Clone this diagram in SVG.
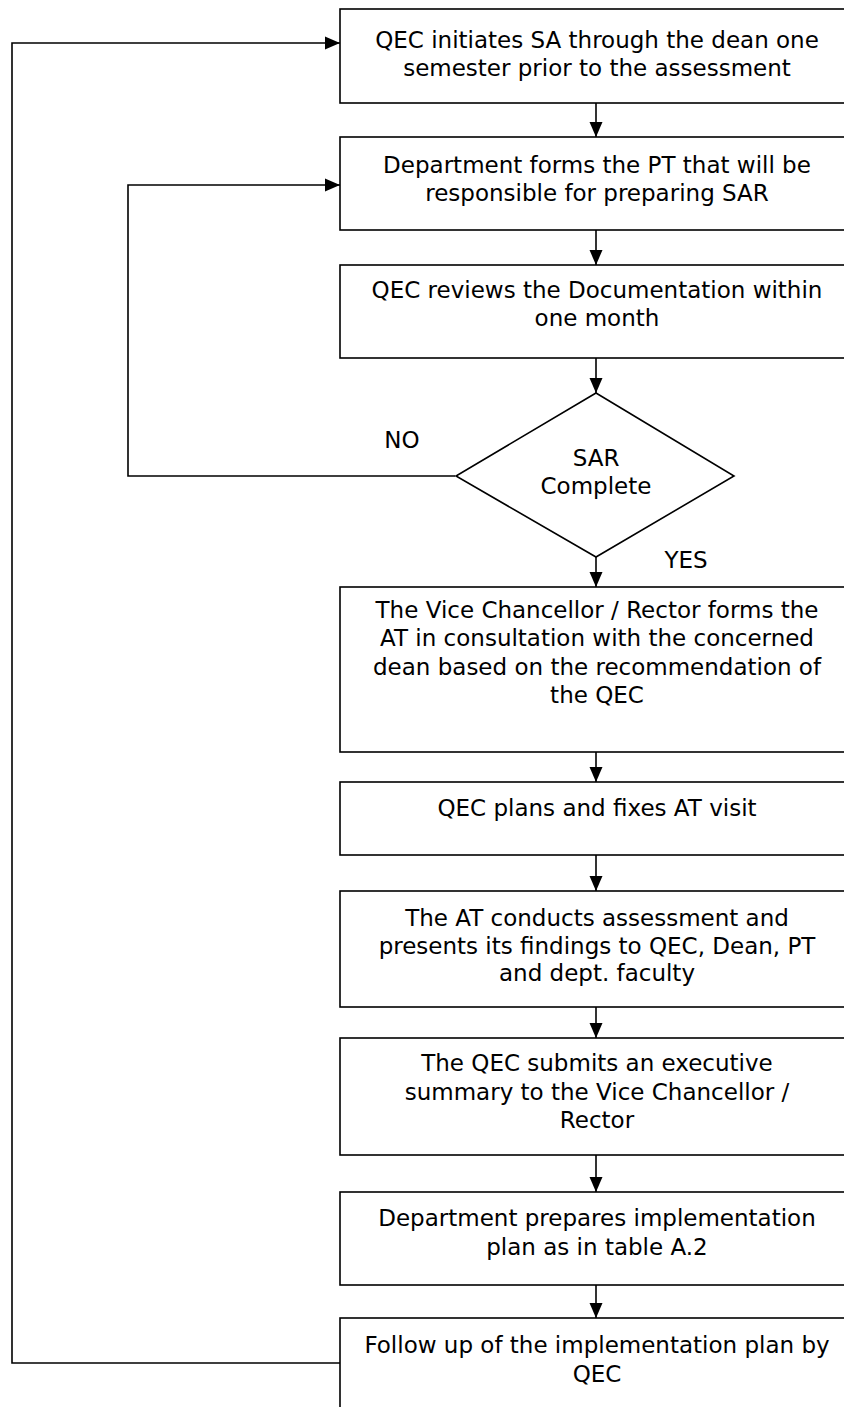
<svg xmlns="http://www.w3.org/2000/svg" width="844" height="1407" viewBox="0 0 844 1407">
<style>
.box{fill:#fff;stroke:#000;stroke-width:1.6}
.t{font-family:"DejaVu Sans",Verdana,sans-serif;font-size:23px;fill:#000;text-anchor:middle}
.c{fill:none;stroke:#000;stroke-width:1.6}
</style>
<defs>
<marker id="ah" markerWidth="15" markerHeight="14" viewBox="0 0 15 14" refX="15" refY="7" orient="auto" markerUnits="userSpaceOnUse">
<path d="M0,0.5 L15,7 L0,13.5 Z" fill="#000"/>
</marker>
</defs>
<rect width="844" height="1407" fill="#fff"/>
<g id="connectors">
<path class="c" d="M596,103 V137" marker-end="url(#ah)"/>
<path class="c" d="M596,230 V265" marker-end="url(#ah)"/>
<path class="c" d="M596,358 V393" marker-end="url(#ah)"/>
<path class="c" d="M596,550 V587" marker-end="url(#ah)"/>
<path class="c" d="M596,752 V782" marker-end="url(#ah)"/>
<path class="c" d="M596,855 V891" marker-end="url(#ah)"/>
<path class="c" d="M596,1007 V1038" marker-end="url(#ah)"/>
<path class="c" d="M596,1155 V1192" marker-end="url(#ah)"/>
<path class="c" d="M596,1285 V1318" marker-end="url(#ah)"/>
<path class="c" d="M455,476 H128 V185 H340" marker-end="url(#ah)"/>
<path class="c" d="M340,1363 H12 V43 H340" marker-end="url(#ah)"/>
<text class="t" x="402" y="448">NO</text>
<text class="t" x="686" y="568">YES</text>
</g>
<g id="n1">
<rect class="box" x="340" y="9" width="520" height="94"/>
<text class="t" x="597" y="48">QEC initiates SA through the dean one</text>
<text class="t" x="597" y="76">semester prior to the assessment</text>
</g>
<g id="n2">
<rect class="box" x="340" y="137" width="520" height="93"/>
<text class="t" x="597" y="173">Department  forms the PT that will be</text>
<text class="t" x="597" y="201">responsible for preparing SAR</text>
</g>
<g id="n3">
<rect class="box" x="340" y="265" width="520" height="93"/>
<text class="t" x="597" y="298">QEC reviews the Documentation within</text>
<text class="t" x="597" y="326">one month</text>
</g>
<g id="n4">
<polygon class="box" points="596,393 734,476 596,557 456,476"/>
<text class="t" x="596" y="466">SAR</text>
<text class="t" x="596" y="494">Complete</text>
</g>
<g id="n5">
<rect class="box" x="340" y="587" width="520" height="165"/>
<text class="t" x="597" y="618">The Vice Chancellor / Rector forms the</text>
<text class="t" x="597" y="646">AT in consultation  with the concerned</text>
<text class="t" x="597" y="675">dean based on the recommendation  of</text>
<text class="t" x="597" y="703">the QEC</text>
</g>
<g id="n6">
<rect class="box" x="340" y="782" width="520" height="73"/>
<text class="t" x="597" y="816">QEC plans and fixes AT visit</text>
</g>
<g id="n7">
<rect class="box" x="340" y="891" width="520" height="116"/>
<text class="t" x="597" y="926">The AT conducts assessment  and</text>
<text class="t" x="597" y="954">presents its findings to QEC, Dean, PT</text>
<text class="t" x="597" y="981">and dept. faculty</text>
</g>
<g id="n8">
<rect class="box" x="340" y="1038" width="520" height="117"/>
<text class="t" x="597" y="1071">The QEC submits an executive</text>
<text class="t" x="597" y="1100">summary to the Vice Chancellor /</text>
<text class="t" x="597" y="1128">Rector</text>
</g>
<g id="n9">
<rect class="box" x="340" y="1192" width="520" height="93"/>
<text class="t" x="597" y="1226">Department  prepares implementation</text>
<text class="t" x="597" y="1255">plan as in table A.2</text>
</g>
<g id="n10">
<rect class="box" x="340" y="1318" width="520" height="110"/>
<text class="t" x="597" y="1353">Follow up of the implementation plan by</text>
<text class="t" x="597" y="1382">QEC</text>
</g>
</svg>
